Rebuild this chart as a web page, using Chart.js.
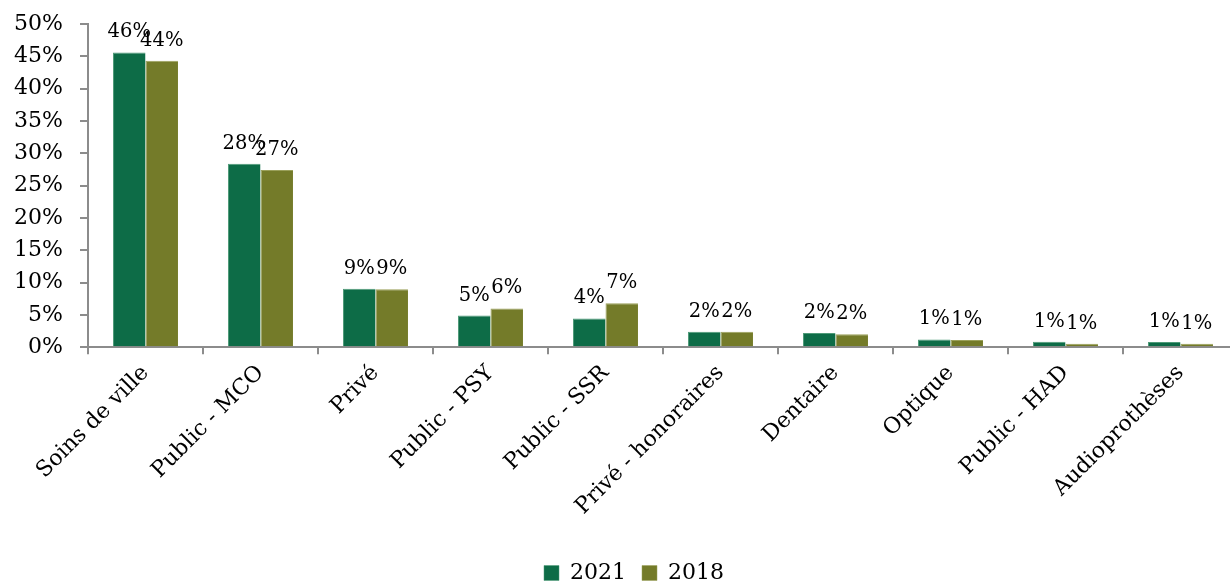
<!DOCTYPE html>
<html lang="fr">
<head>
<meta charset="utf-8">
<title>Répartition 2021 / 2018</title>
<script src="https://cdn.jsdelivr.net/npm/chart.js@4.4.1/dist/chart.umd.min.js"></script>
<style>
  html, body { margin: 0; padding: 0; background: #fff; overflow: hidden; }
  #wrap { width: 1268px; height: 581px; }
</style>
</head>
<body>
<div id="wrap"><canvas id="chart" width="1268" height="581"></canvas></div>
<script>
// Categories and shares (in %)
const categories = ['Soins de ville', 'Public - MCO', 'Privé', 'Public - PSY', 'Public - SSR',
                    'Privé - honoraires', 'Dentaire', 'Optique', 'Public - HAD', 'Audioprothèses'];
const values2021 = [45.6, 28.4, 9.05, 4.9, 4.45, 2.4, 2.2, 1.2, 0.85, 0.8];
const values2018 = [44.3, 27.4, 8.95, 6.0, 6.8, 2.4, 2.0, 1.1, 0.55, 0.55];
const yTicks = [0, 5, 10, 15, 20, 25, 30, 35, 40, 45, 50];

const FONT = '"DejaVu Serif", "Liberation Serif", serif';
const AXIS_GREY = '#8c8c8c';

// Rounded percentage written above each bar
const valueLabels = {
  id: 'valueLabels',
  afterDatasetsDraw(chart) {
    const ctx = chart.ctx;
    ctx.save();
    ctx.font = '19.5px ' + FONT;
    ctx.fillStyle = '#000';
    ctx.textAlign = 'center';
    ctx.textBaseline = 'alphabetic';
    chart.data.datasets.forEach((ds, i) => {
      chart.getDatasetMeta(i).data.forEach((bar, j) => {
        ctx.fillText(Math.round(ds.data[j]) + '%', bar.x, bar.y - 15);
      });
    });
    ctx.restore();
  }
};

new Chart(document.getElementById('chart'), {
  type: 'bar',
  data: {
    labels: categories,
    datasets: [
      { label: '2021', data: values2021, backgroundColor: '#0d6c47',
        borderColor: '#4e9a78', borderWidth: { top: 1, left: 1, right: 0, bottom: 0 } },
      { label: '2018', data: values2018, backgroundColor: '#747b29',
        borderColor: '#9aa05a', borderWidth: { top: 1, left: 1, right: 0, bottom: 0 } }
    ]
  },
  options: {
    responsive: false,
    animation: false,
    layout: { padding: { left: 0, right: 0, top: 24, bottom: -13 } },
    datasets: { bar: { categoryPercentage: 0.565, barPercentage: 1.0 } },
    plugins: {
      tooltip: { enabled: false },
      legend: {
        position: 'bottom',
        labels: {
          font: { family: FONT, size: 22 },
          color: '#000',
          boxWidth: 15,
          boxHeight: 15,
          padding: 16
        }
      }
    },
    scales: {
      x: {
        afterFit(scale) { scale.height += 20; },
        grid: { offset: true, drawOnChartArea: false, drawTicks: true, tickLength: 7,
                color: AXIS_GREY, lineWidth: 2 },
        border: { color: AXIS_GREY, width: 2 },
        ticks: { font: { family: FONT, size: 22 }, color: '#000',
                 maxRotation: 45, minRotation: 45, autoSkip: false, padding: 6 }
      },
      y: {
        min: 0, max: 50,
        afterFit(scale) { scale.width = 88; scale.paddingTop = 0; scale.paddingBottom = 0; },
        afterBuildTicks(scale) { scale.ticks = yTicks.map(v => ({ value: v })); },
        grid: { drawOnChartArea: false, drawTicks: true, tickLength: 8,
                color: AXIS_GREY, lineWidth: 2 },
        border: { color: AXIS_GREY, width: 2 },
        ticks: { font: { family: FONT, size: 22 }, color: '#000', padding: 17,
                 callback: v => v + '%' }
      },
      // empty right-hand margin so the plot ends where the x axis is cut
      spacer: {
        type: 'linear', position: 'right', display: true,
        afterFit(scale) { scale.width = 30; scale.paddingTop = 0; scale.paddingBottom = 0; },
        grid: { display: false }, border: { display: false }, ticks: { display: false }
      }
    }
  },
  plugins: [valueLabels]
});
</script>
</body>
</html>
